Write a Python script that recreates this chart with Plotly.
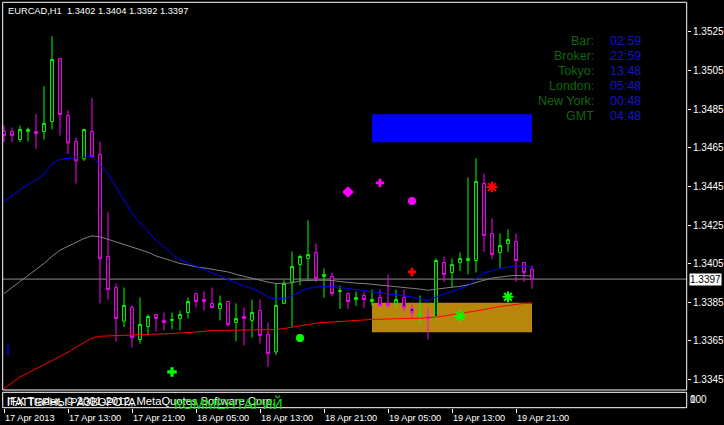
import plotly.graph_objects as go

# ---------------- data ----------------
opens = [1.34736, 1.34734, 1.34693, 1.34734, 1.34734, 1.34734, 1.34786, 1.35112, 1.34817, 1.34682,
         1.34592, 1.34734, 1.34615, 1.34087, 1.33926, 1.33753, 1.33823, 1.33657, 1.33724, 1.33787,
         1.33756, 1.33756, 1.33766, 1.33797, 1.33895, 1.33864, 1.33844, 1.33818, 1.33854, 1.33745,
         1.33776, 1.33756, 1.33807, 1.33683, 1.33593, 1.33844, 1.33955, 1.34045, 1.34077, 1.34108,
         1.33983, 1.33983, 1.33906, 1.33895, 1.33864, 1.33885, 1.33854, 1.33875, 1.33844, 1.33844,
         1.33875, 1.33818, 1.33787, 1.33776, 1.33776, 1.34056, 1.34004, 1.34056, 1.34066, 1.34066,
         1.34465, 1.34206, 1.34108, 1.34154, 1.34165, 1.34056, 1.34020]
highs = [1.34765, 1.34755, 1.34765, 1.34755, 1.34824, 1.34969, 1.35228, 1.35115, 1.34844, 1.34703,
         1.34745, 1.34907, 1.34682, 1.34316, 1.33947, 1.33926, 1.33833, 1.33875, 1.33787, 1.33790,
         1.33797, 1.33797, 1.33807, 1.33875, 1.33895, 1.33906, 1.33926, 1.33885, 1.33854, 1.33844,
         1.33823, 1.33864, 1.33864, 1.33745, 1.33947, 1.33964, 1.34113, 1.34097, 1.34275, 1.34154,
         1.34025, 1.34004, 1.33937, 1.33900, 1.33906, 1.33906, 1.33916, 1.33916, 1.33994, 1.33916,
         1.33916, 1.33844, 1.33885, 1.33818, 1.34077, 1.34087, 1.34077, 1.34108, 1.34496, 1.34596,
         1.34517, 1.34284, 1.34206, 1.34227, 1.34206, 1.34056, 1.34040]
lows = [1.34679, 1.34679, 1.34679, 1.34682, 1.34644, 1.34693, 1.34745, 1.34713, 1.34617, 1.34465,
        1.34582, 1.34603, 1.33844, 1.33864, 1.33647, 1.33722, 1.33616, 1.33636, 1.33678, 1.33699,
        1.33704, 1.33709, 1.33704, 1.33766, 1.33823, 1.33807, 1.33818, 1.33756, 1.33724, 1.33647,
        1.33626, 1.33667, 1.33636, 1.33515, 1.33576, 1.33840, 1.33722, 1.33937, 1.33968, 1.33955,
        1.33873, 1.33883, 1.33816, 1.33816, 1.33831, 1.33821, 1.33831, 1.33826, 1.33823, 1.33826,
        1.33802, 1.33771, 1.33733, 1.33657, 1.33753, 1.33955, 1.33926, 1.34012, 1.33994, 1.34004,
        1.34111, 1.34073, 1.34025, 1.34111, 1.33955, 1.33955, 1.33920]
closes = [1.34713, 1.34713, 1.34745, 1.34745, 1.34724, 1.34776, 1.35107, 1.34822, 1.34675, 1.34582,
          1.34745, 1.34603, 1.34075, 1.33916, 1.33766, 1.33833, 1.33667, 1.33735, 1.33776, 1.33766,
          1.33745, 1.33760, 1.33787, 1.33854, 1.33854, 1.33854, 1.33823, 1.33844, 1.33735, 1.33766,
          1.33766, 1.33797, 1.33678, 1.33585, 1.33833, 1.33947, 1.34035, 1.34087, 1.34097, 1.33973,
          1.33994, 1.33895, 1.33910, 1.33854, 1.33875, 1.33864, 1.33864, 1.33833, 1.33833, 1.33864,
          1.33823, 1.33797, 1.33790, 1.33766, 1.34066, 1.33994, 1.34045, 1.34077, 1.34077, 1.34475,
          1.34196, 1.34097, 1.34144, 1.34175, 1.34066, 1.34004, 1.33970]

ma_blue = [1.34372, 1.34401, 1.34430, 1.34461, 1.34482, 1.34513, 1.34568, 1.34589, 1.34596, 1.34597,
           1.34601, 1.34605, 1.34560, 1.34517, 1.34447, 1.34378, 1.34310, 1.34261, 1.34214, 1.34171,
           1.34137, 1.34099, 1.34071, 1.34054, 1.34037, 1.34023, 1.34002, 1.33985, 1.33968, 1.33950,
           1.33933, 1.33921, 1.33904, 1.33876, 1.33866, 1.33869, 1.33883, 1.33904, 1.33921, 1.33929,
           1.33932, 1.33932, 1.33926, 1.33921, 1.33916, 1.33909, 1.33906, 1.33900, 1.33895, 1.33890,
           1.33885, 1.33878, 1.33867, 1.33859, 1.33878, 1.33890, 1.33906, 1.33921, 1.33933, 1.33973,
           1.34002, 1.34012, 1.34025, 1.34033, 1.34038, 1.34037, 1.34028]
ma_gray = [1.33895, 1.33926, 1.33961, 1.33990, 1.34020, 1.34051, 1.34088, 1.34120, 1.34140, 1.34159,
           1.34180, 1.34194, 1.34188, 1.34176, 1.34163, 1.34151, 1.34137, 1.34123, 1.34109, 1.34090,
           1.34077, 1.34063, 1.34051, 1.34043, 1.34033, 1.34028, 1.34021, 1.34016, 1.34007, 1.33995,
           1.33985, 1.33973, 1.33964, 1.33954, 1.33947, 1.33947, 1.33950, 1.33961, 1.33964, 1.33964,
           1.33964, 1.33963, 1.33957, 1.33952, 1.33949, 1.33947, 1.33943, 1.33940, 1.33935, 1.33929,
           1.33928, 1.33924, 1.33918, 1.33912, 1.33916, 1.33923, 1.33928, 1.33932, 1.33940, 1.33954,
           1.33964, 1.33975, 1.33981, 1.33986, 1.33989, 1.33989, 1.33986]
ma_red = [1.33403, 1.33432, 1.33463, 1.33484, 1.33505, 1.33526, 1.33548, 1.33571, 1.33591, 1.33617,
          1.33642, 1.33664, 1.33674, 1.33676, 1.33678, 1.33679, 1.33679, 1.33681, 1.33683, 1.33685,
          1.33686, 1.33688, 1.33690, 1.33693, 1.33696, 1.33700, 1.33704, 1.33704, 1.33705, 1.33705,
          1.33707, 1.33707, 1.33707, 1.33708, 1.33709, 1.33714, 1.33721, 1.33728, 1.33736, 1.33742,
          1.33745, 1.33748, 1.33750, 1.33753, 1.33756, 1.33757, 1.33761, 1.33762, 1.33764, 1.33766,
          1.33766, 1.33767, 1.33767, 1.33769, 1.33773, 1.33779, 1.33785, 1.33790, 1.33797, 1.33805,
          1.33812, 1.33821, 1.33828, 1.33833, 1.33840, 1.33844, 1.33844]

# signal arrows (bar index, price)
diamond_magenta_bar, diamond_magenta_price = [43], [1.34421]
cross_magenta_bar, cross_magenta_price = [47], [1.34468]
circle_magenta_bar, circle_magenta_price = [51], [1.34375]
cross_red_bar, cross_red_price = [51], [1.34007]
star_red_bar, star_red_price = [61], [1.34447]
star_green_bars, star_green_prices = [57, 63], [1.33779, 1.33878]
circle_green_bar, circle_green_price = [37], [1.33665]
cross_green_bar, cross_green_price = [21], [1.33489]
blue_tick_bar, blue_tick_prices = [0.5, 0.5], [1.33628, 1.33576]

# rectangle objects (bar from, bar to, price low, price high)
blue_box = [46, 66, 1.34679, 1.34824]
gold_box = [46, 66, 1.33695, 1.33847]

current_price = 1.3397
price_ticks = [1.3345, 1.3365, 1.3385, 1.3405, 1.3425, 1.3445, 1.3465, 1.3485, 1.3505, 1.3525]
tick_bars = [0, 8, 16, 24, 32, 40, 48, 56, 64]
time_labels = ["17 Apr 2013", "17 Apr 13:00", "17 Apr 21:00", "18 Apr 05:00", "18 Apr 13:00",
               "18 Apr 21:00", "19 Apr 05:00", "19 Apr 13:00", "19 Apr 21:00"]
clock_names = ["Bar:", "Broker:", "Tokyo:", "London:", "New York:", "GMT"]
clock_values = ["02:59", "22:59", "13:48", "05:48", "00:48", "04:48"]
title_text = "EURCAD,H1\u00a0 1.3402 1.3404 1.3392 1.3397"

# ---------------- figure ----------------
FONT = "Liberation Sans, Arial, sans-serif"
W, H = 724, 425
ML, MR, MT, MB = 3, 37, 2, 17
PW, PH = W - ML - MR, H - MT - MB


def px(x):
    return (x - ML) / PW


def py(y):
    return (H - MB - y) / PH


bars = list(range(len(opens)))
fig = go.Figure()

fig.add_trace(go.Candlestick(
    x=bars, open=opens, high=highs, low=lows, close=closes,
    increasing=dict(line=dict(color="#00FF00", width=1), fillcolor="#000000"),
    decreasing=dict(line=dict(color="#FF00FF", width=1), fillcolor="#000000"),
    whiskerwidth=0, showlegend=False))

for vals, col in [(ma_gray, "#808080"), (ma_red, "#FF0000"), (ma_blue, "#0000FF")]:
    fig.add_trace(go.Scatter(x=bars, y=vals, mode="lines", line=dict(color=col, width=1),
                             showlegend=False, hoverinfo="skip"))

fig.add_trace(go.Scatter(x=blue_tick_bar, y=blue_tick_prices, mode="lines",
                         line=dict(color="#0000FF", width=1.5), showlegend=False))


def marker(xs, ys, symbol, color, size, lw=0):
    fig.add_trace(go.Scatter(x=xs, y=ys, mode="markers", showlegend=False,
                             marker=dict(symbol=symbol, color=color, size=size,
                                         line=dict(color=color, width=lw))))


marker(diamond_magenta_bar, diamond_magenta_price, "diamond", "#FF00FF", 9)
marker(cross_magenta_bar, cross_magenta_price, "cross", "#FF00FF", 7)
marker(circle_magenta_bar, circle_magenta_price, "circle", "#FF00FF", 8)
marker(cross_red_bar, cross_red_price, "cross", "#FF0000", 7)
marker(star_red_bar, star_red_price, "asterisk-open", "#FF0000", 9, 2)
marker(star_green_bars, star_green_prices, "asterisk-open", "#00FF00", 9, 2)
marker(circle_green_bar, circle_green_price, "circle", "#00FF00", 8)
marker(cross_green_bar, cross_green_price, "cross", "#00FF00", 8)

shapes = [
    dict(type="rect", xref="x", yref="y", x0=blue_box[0], x1=blue_box[1], y0=blue_box[2], y1=blue_box[3],
         fillcolor="#0000FF", line=dict(width=0), layer="below"),
    dict(type="rect", xref="x", yref="y", x0=gold_box[0], x1=gold_box[1], y0=gold_box[2], y1=gold_box[3],
         fillcolor="#B8860B", line=dict(width=0), layer="below"),
    dict(type="line", xref="paper", yref="y", x0=0, x1=1, y0=current_price, y1=current_price,
         line=dict(color="#8C8C8C", width=1), layer="below"),
    # main window frame
    dict(type="rect", xref="paper", yref="paper", x0=px(2.7), x1=px(686.7), y0=py(390), y1=py(2.3),
         line=dict(color="white", width=1)),
    # sub window frame
    dict(type="rect", xref="paper", yref="paper", x0=px(2.7), x1=px(686.7), y0=py(407.7), y1=py(392.3),
         line=dict(color="white", width=1)),
]

ann = []
ann.append(dict(xref="paper", yref="paper", x=px(6), y=py(10.5), xanchor="left", yanchor="middle",
                text=title_text, showarrow=False, font=dict(color="white", size=9.3, family=FONT)))
for i, (n, v) in enumerate(zip(clock_names, clock_values)):
    yy = py(41.3 + 15 * i)
    ann.append(dict(xref="paper", yref="paper", x=px(596), y=yy, xanchor="right", yanchor="middle",
                    text=n, showarrow=False, font=dict(color="#116611", size=12.5, family=FONT)))
    ann.append(dict(xref="paper", yref="paper", x=px(608), y=yy, xanchor="left", yanchor="middle",
                    text=v, showarrow=False, font=dict(color="#1414C8", size=12.5, family=FONT)))
for b, t in zip(tick_bars, time_labels):
    ann.append(dict(xref="x", yref="paper", x=b, y=py(417.5), xanchor="left", yanchor="middle",
                    text=t, showarrow=False, xshift=-1, font=dict(color="white", size=9.2, family=FONT)))
ann.append(dict(xref="paper", yref="y", x=1, y=current_price, xanchor="left", yanchor="middle",
                text="1.3397", showarrow=False, xshift=2, bgcolor="white", borderpad=0,
                font=dict(color="black", size=10, family=FONT)))
# sub window texts
ann.append(dict(xref="paper", yref="paper", x=px(5), y=py(400.5), xanchor="left", yanchor="middle",
                text="IFX Trader, © 2001-2012, MetaQuotes Software Corp.", showarrow=False,
                font=dict(color="white", size=11.2, family=FONT)))
ann.append(dict(xref="paper", yref="paper", x=px(5), y=py(401.5), xanchor="left", yanchor="middle",
                text="ПАТТЕРНЫ РАЗВОРОТА", showarrow=False,
                font=dict(color="white", size=11, family=FONT)))
ann.append(dict(xref="paper", yref="paper", x=px(172), y=py(403), xanchor="left", yanchor="middle",
                text="КОММЕНТАРИЙ", showarrow=False,
                font=dict(color="#10E010", size=14, family=FONT)))
for t in ["100", "0"]:
    ann.append(dict(xref="paper", yref="paper", x=px(688), y=py(399.5), xanchor="left", yanchor="middle",
                    text=t, showarrow=False, font=dict(color="white", size=10, family=FONT)))

fig.update_layout(
    template="none",
    width=W, height=H, margin=dict(l=ML, r=MR, t=MT, b=MB, autoexpand=False),
    paper_bgcolor="black", plot_bgcolor="black", showlegend=False, boxgap=0.5,
    xaxis=dict(range=[-0.125, -0.125 + PW / 8], anchor="free", position=0, showgrid=False,
               zeroline=False, showline=False, rangeslider=dict(visible=False), automargin=False,
               tickvals=tick_bars, showticklabels=False, ticks="outside", ticklen=4,
               tickcolor="white", tickwidth=1),
    yaxis=dict(domain=[py(390), 1], range=[1.333956, 1.354049], side="right", showgrid=False,
               zeroline=False, showline=False, tickvals=price_ticks, tickformat=".4f",
               automargin=False, ticks="outside", ticklen=3, tickcolor="white", tickwidth=1,
               tickfont=dict(color="white", size=10, family=FONT)),
    shapes=shapes, annotations=ann,
)

fig.write_html("out.html", config={"displayModeBar": False},
               post_script="document.body.style.margin='0px';document.body.style.background='black';")
